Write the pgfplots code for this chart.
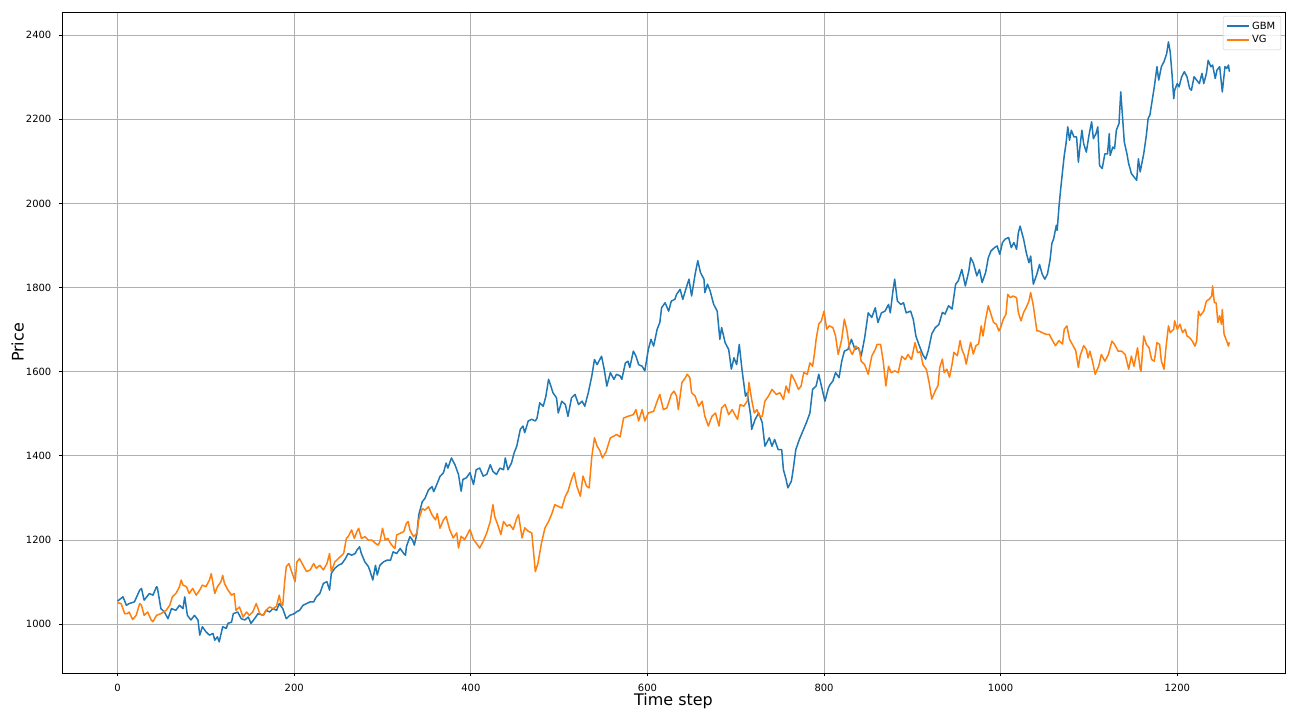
\documentclass[border=0pt]{standalone}
\usepackage{pgfplots}
\pgfplotsset{compat=1.18}
\usepackage{fontspec}
\setmainfont{DejaVu Sans}
\definecolor{c0}{RGB}{31,119,180}
\definecolor{c1}{RGB}{255,127,14}
\definecolor{gridc}{HTML}{B0B0B0}
\begin{document}
\begin{tikzpicture}
\useasboundingbox (0,0) rectangle (1296bp,720bp);
\begin{axis}[
 at={(62bp,47bp)}, anchor=south west,
 scale only axis, width=1223bp, height=661bp,
 xmin=-63, xmax=1322, ymin=884, ymax=2455,
 xtick={0,200,...,1200}, ytick={1000,1200,...,2400},
 xtick pos=bottom, ytick pos=left,
 grid=major, major grid style={gridc, line width=0.8bp},
 axis line style={line width=0.8bp, black},
 tick style={line width=0.8bp, black},
 tick align=outside, major tick length=3.5bp,
 ticklabel style={font=\fontsize{10}{12}\selectfont},
 xticklabel style={inner sep=0pt, anchor=north, yshift=-7bp},
 yticklabel style={inner sep=0pt, anchor=east, xshift=-7bp},
 /pgf/number format/assume math mode=true,
 /pgf/number format/set thousands separator={},
 xlabel={Time step}, ylabel={Price},
 label style={font=\fontsize{16}{19}\selectfont},
 xlabel style={at={([yshift=-20bp]axis description cs:0.5,0)}, anchor=north, inner sep=0pt},
 ylabel style={at={([xshift=-38bp]axis description cs:0,0.5)}, anchor=south, inner sep=0pt},
 legend style={at={(1,1)}, anchor=north east, xshift=-4bp, yshift=-4bp,
   draw=black!20, rounded corners=2bp, fill=white, fill opacity=0.8, text opacity=1,
   font=\fontsize{10}{12}\selectfont, inner sep=3.5bp, row sep=1bp},
 legend cell align=left,
 legend image code/.code={\draw[#1] (0bp,0bp) -- (22bp,0bp);},
]
\addplot[c0, line width=1.5bp, line join=round] coordinates {
(0,1055)(6,1065)(10,1045)(13,1049)(19,1053)(25,1081)(27,1085)(30,1057)(36,1073)(40,1069)(44,1089)(45,1087)(49,1037)(53,1029)(57,1013)(61,1037)(66,1033)(70,1045)(74,1037)(76,1065)(79,1021)(83,1010)(87,1021)(91,1010)(93,974)(96,994)(100,982)(104,974)(108,978)(110,962)(113,970)(115,958)(119,994)(123,990)(125,1002)(129,1005)(131,1025)(136,1029)(140,1013)(144,1010)(148,1017)(151,1002)(155,1013)(159,1025)(165,1021)(168,1033)(172,1029)(176,1037)(180,1033)(183,1049)(187,1037)(191,1013)(195,1021)(200,1025)(203,1030)
(206,1033)(210,1045)(214,1049)(218,1053)(222,1053)(225,1065)(229,1073)(233,1097)(237,1101)(240,1081)(242,1121)(246,1133)(250,1140)(254,1144)(258,1156)(261,1168)(265,1164)(269,1168)(271,1176)(274,1184)(276,1168)(280,1148)(284,1137)(286,1125)(289,1105)(292,1140)(294,1117)(297,1140)(301,1148)(305,1152)(309,1152)(312,1172)(316,1168)(320,1180)(324,1168)(326,1164)(327,1184)(331,1208)(334,1200)(336,1188)(339,1216)(341,1260)(345,1291)(348,1299)(352,1319)(356,1327)(358,1315)(362,1335)(365,1351)(369,1360)(372,1383)(374,1371)(378,1395)(382,1379)(386,1356)(389,1316)(391,1344)(395,1348)(399,1360)
(403,1332)(406,1367)(410,1371)(414,1352)(418,1356)(422,1379)(425,1363)(429,1356)(433,1371)(437,1367)(439,1395)(442,1367)(446,1383)(449,1407)(452,1423)(456,1463)(459,1471)(461,1455)(465,1483)(469,1487)(473,1483)(475,1490)(478,1526)(482,1518)(485,1542)(488,1582)(490,1570)(493,1550)(497,1538)(499,1502)(503,1530)(507,1522)(510,1494)(514,1538)(518,1546)(522,1522)(526,1530)(529,1518)(533,1550)(537,1590)(540,1629)(543,1617)(546,1629)(548,1637)(551,1606)(554,1566)(558,1598)(562,1582)(565,1594)(569,1590)(571,1582)(575,1621)(578,1625)(580,1610)(584,1649)(587,1637)(590,1617)(594,1613)(597,1602)
(601,1653)(604,1677)(607,1661)(611,1701)(614,1717)(616,1752)(620,1764)(624,1744)(627,1768)(631,1772)(633,1784)(637,1796)(640,1772)(644,1800)(647,1820)(650,1780)(654,1832)(657,1864)(660,1836)(664,1820)(665,1788)(668,1808)(671,1792)(675,1760)(679,1744)(682,1677)(684,1705)(688,1669)(692,1653)(695,1606)(698,1633)(701,1617)(704,1665)(707,1606)(709,1574)(711,1542)(713,1550)(717,1494)(718,1463)(722,1487)(726,1502)(730,1479)(733,1423)(738,1443)(741,1423)(744,1439)(748,1415)(752,1415)(754,1367)(757,1344)(759,1324)(763,1340)(765,1367)(768,1415)(772,1439)(776,1459)(780,1479)(784,1502)(787,1558)(791,1566)(794,1594)(797,1566)
(801,1530)(805,1562)(807,1570)(810,1578)(813,1598)(817,1586)(820,1625)(823,1649)(827,1653)(831,1677)(835,1653)(839,1657)(842,1637)(846,1681)(850,1740)(854,1729)(858,1752)(861,1717)(865,1740)(869,1744)(873,1760)(875,1740)(878,1792)(880,1820)(883,1768)(887,1760)(890,1764)(893,1740)(898,1744)(901,1725)(904,1685)(908,1661)(912,1640)(915,1630)(918,1650)(922,1690)(926,1705)(930,1712)(934,1741)(937,1737)(941,1757)(945,1749)(949,1808)(952,1816)(956,1843)(960,1804)(964,1840)(966,1871)(969,1859)(973,1828)(976,1843)(979,1812)(983,1836)(986,1871)(989,1887)(993,1895)(996,1899)(999,1879)
(1002,1907)(1005,1915)(1009,1919)(1012,1895)(1015,1907)(1018,1891)(1020,1930)(1022,1946)(1026,1915)(1029,1883)(1032,1859)(1034,1875)(1037,1808)(1041,1832)(1044,1855)(1047,1832)(1050,1820)(1053,1832)(1056,1867)(1058,1905)(1060,1916)(1063,1948)(1064,1936)(1066,1991)(1068,2035)(1070,2075)(1072,2114)(1074,2142)(1076,2182)(1078,2150)(1080,2174)(1083,2158)(1086,2158)(1088,2098)(1090,2138)(1092,2174)(1094,2142)(1097,2122)(1100,2162)(1103,2194)(1105,2154)(1108,2166)(1110,2182)(1112,2090)(1115,2083)(1118,2118)(1121,2118)(1123,2166)(1124,2114)(1127,2134)(1129,2130)(1131,2174)(1134,2190)(1136,2265)(1138,2206)(1140,2146)(1143,2118)(1145,2094)(1146,2087)(1148,2071)(1151,2063)(1154,2055)(1156,2106)(1158,2075)
(1162,2118)(1165,2162)(1167,2202)(1169,2210)(1171,2237)(1174,2277)(1177,2325)(1179,2293)(1182,2325)(1185,2337)(1188,2356)(1190,2384)(1192,2360)(1194,2309)(1196,2249)(1197,2269)(1200,2285)(1202,2277)(1205,2301)(1208,2313)(1211,2301)(1214,2273)(1216,2269)(1219,2301)(1222,2293)(1225,2285)(1228,2309)(1230,2285)(1233,2309)(1235,2340)(1238,2325)(1240,2329)(1243,2297)(1245,2317)(1248,2325)(1251,2265)(1254,2325)(1256,2321)(1258,2329)(1259,2313)
};
\addlegendentry{GBM}
\addplot[c1, line width=1.5bp, line join=round] coordinates {
(0,1051)(4,1049)(8,1025)(11,1025)(13,1029)(17,1011)(21,1021)(25,1049)(27,1045)(30,1021)(34,1029)(38,1010)(40,1006)(44,1021)(49,1025)(55,1033)(59,1045)(62,1065)(66,1073)(70,1089)(72,1105)(74,1093)(78,1089)(81,1073)(85,1085)(89,1069)(93,1081)(96,1093)(100,1089)(104,1105)(106,1120)(110,1073)(113,1089)(117,1101)(119,1116)(121,1097)(125,1081)(129,1069)(132,1073)(134,1033)(138,1041)(142,1017)(146,1029)(149,1021)(153,1029)(157,1049)(161,1025)(165,1021)(168,1033)(172,1041)(176,1037)(180,1043)(183,1069)(185,1049)(187,1045)(189,1097)(191,1137)(194,1144)(197,1125)
(201,1101)(203,1148)(206,1156)(210,1140)(214,1125)(218,1129)(222,1144)(225,1133)(229,1140)(233,1129)(237,1144)(240,1168)(242,1125)(246,1148)(252,1160)(256,1168)(259,1204)(261,1208)(265,1224)(268,1204)(271,1220)(273,1228)(276,1204)(280,1208)(284,1200)(288,1200)(292,1192)(295,1188)(297,1196)(300,1228)(303,1200)(306,1204)(309,1192)(312,1184)(314,1180)(316,1212)(320,1216)(324,1220)(327,1240)(329,1244)(331,1224)(335,1208)(339,1216)(341,1248)(345,1275)(348,1271)(352,1279)(356,1260)(360,1248)(362,1263)(365,1228)(369,1248)(372,1256)(376,1225)(380,1205)(384,1217)(386,1181)(389,1209)(393,1201)(399,1225)
(403,1201)(406,1193)(410,1181)(414,1197)(418,1217)(422,1244)(425,1284)(427,1256)(431,1233)(434,1213)(437,1244)(441,1233)(444,1237)(448,1225)(452,1252)(454,1260)(458,1205)(461,1229)(465,1221)(469,1217)(472,1149)(473,1125)(476,1145)(480,1193)(484,1229)(488,1244)(492,1264)(495,1284)(499,1280)(503,1276)(507,1304)(510,1316)(514,1344)(517,1360)(520,1328)(524,1304)(527,1352)(531,1328)(534,1324)(537,1399)(540,1443)(543,1423)(546,1413)(549,1395)(553,1409)(558,1443)(562,1447)(565,1451)(569,1445)(573,1490)(578,1494)(584,1498)(587,1510)(590,1483)(594,1510)(597,1483)
(601,1502)(607,1506)(611,1530)(614,1546)(618,1510)(622,1514)(627,1546)(630,1554)(633,1542)(635,1510)(639,1574)(643,1586)(645,1594)(648,1586)(650,1550)(654,1542)(658,1518)(662,1530)(665,1494)(669,1471)(673,1494)(677,1502)(681,1471)(684,1514)(688,1522)(692,1498)(696,1510)(700,1494)(702,1487)(705,1522)(709,1518)(713,1530)(715,1574)(718,1534)(721,1502)(724,1510)(727,1494)(730,1494)(733,1530)(737,1542)(741,1558)(746,1546)(750,1550)(754,1534)(757,1566)(760,1550)(763,1594)(767,1578)(771,1558)(774,1566)(777,1598)(781,1594)(784,1621)(787,1613)(789,1641)(791,1677)(794,1713)(797,1721)
(800,1744)(803,1701)(806,1709)(810,1705)(813,1685)(816,1641)(820,1677)(823,1725)(826,1697)(829,1653)(832,1641)(836,1661)(840,1653)(842,1625)(846,1617)(850,1594)(854,1637)(858,1653)(860,1665)(864,1665)(867,1625)(870,1566)(873,1613)(876,1598)(880,1602)(884,1598)(888,1637)(892,1629)(895,1641)(899,1629)(903,1669)(906,1645)(909,1648)(912,1617)(916,1605)(919,1574)(922,1535)(926,1555)(929,1567)(931,1610)(934,1630)(936,1598)(939,1606)(942,1587)(945,1618)(947,1646)(951,1638)(954,1674)(956,1654)(959,1638)(961,1618)(964,1650)(966,1670)(969,1642)(972,1662)(975,1666)(978,1709)(980,1685)(983,1725)(986,1757)(989,1737)(992,1717)(995,1713)(998,1697)
(1000,1705)(1003,1725)(1006,1737)(1008,1784)(1011,1776)(1014,1780)(1018,1776)(1020,1741)(1023,1721)(1026,1741)(1029,1753)(1032,1768)(1034,1788)(1037,1757)(1041,1697)(1043,1697)(1047,1693)(1051,1689)(1055,1689)(1058,1677)(1062,1662)(1066,1674)(1070,1666)(1072,1701)(1075,1709)(1078,1677)(1082,1662)(1085,1650)(1088,1610)(1090,1638)(1094,1662)(1097,1653)(1099,1633)(1101,1649)(1104,1625)(1107,1594)(1111,1613)(1114,1641)(1118,1625)(1122,1641)(1126,1673)(1129,1665)(1133,1649)(1137,1649)(1141,1641)(1145,1606)(1148,1637)(1151,1613)(1155,1657)(1158,1606)(1159,1602)(1162,1685)(1165,1665)(1168,1657)(1171,1629)(1174,1625)(1177,1669)(1180,1665)(1182,1625)(1185,1606)(1187,1653)(1190,1709)(1192,1693)(1196,1701)(1197,1721)
(1200,1701)(1203,1713)(1206,1693)(1209,1701)(1211,1685)(1214,1681)(1217,1673)(1220,1661)(1222,1673)(1224,1744)(1226,1733)(1230,1744)(1233,1768)(1236,1772)(1239,1780)(1240,1804)(1242,1764)(1244,1764)(1246,1717)(1248,1733)(1250,1713)(1251,1748)(1253,1689)(1256,1673)(1258,1661)(1259,1670)
};
\addlegendentry{VG}
\end{axis}
\end{tikzpicture}
\end{document}
